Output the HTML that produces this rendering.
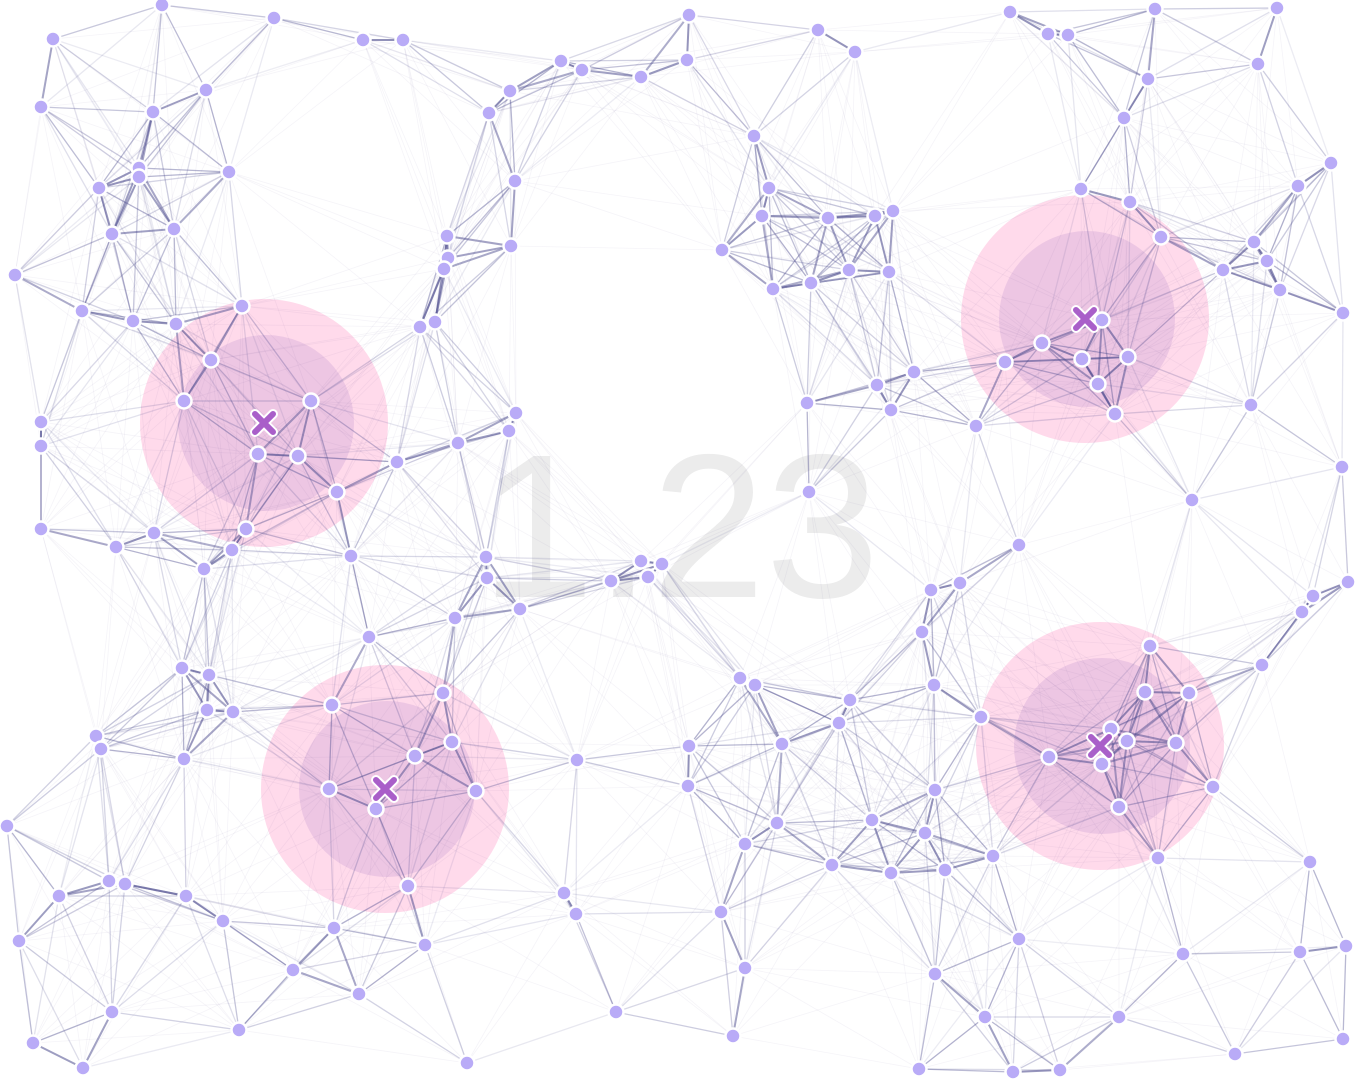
<!DOCTYPE html>
<html><head><meta charset="utf-8"><style>
html,body{margin:0;padding:0;background:#fff;}
svg{display:block;font-family:"Liberation Sans",sans-serif;}
</style></head><body>
<svg id="chart" width="1356" height="1080" viewBox="0 0 1356 1080">
<text x="680" y="597" text-anchor="middle" font-size="205" fill="#ececec">1.23</text>
<g id="halos"></g><g id="edges"></g><g id="nodes"></g><g id="markers"></g>
</svg>
<script>
const nodeX=[53,162,274,363,403,41,153,206,99,139,139,229,112,174,15,82,133,176,242,211,184,311,258,298,337,397,41,41,41,116,154,204,232,246,351,
489,510,561,582,641,687,689,515,511,447,448,444,420,435,516,509,458,
754,818,855,769,762,828,875,893,722,773,811,849,889,877,914,891,807,809,
1010,1048,1068,1155,1277,1148,1258,1124,1081,1130,1161,1298,1331,1254,1267,1223,1280,1343,1102,1042,1005,1082,1128,1098,1115,976,1251,1342,1192,1019,
486,487,520,455,611,641,648,662,369,931,960,922,934,981,1313,1348,1302,1262,
182,209,207,233,96,101,184,332,443,452,415,329,376,476,408,577,7,59,109,125,186,223,19,112,33,83,239,293,334,359,425,467,564,576,616,
740,755,689,782,688,850,839,745,777,872,832,891,925,945,935,993,721,745,733,1019,935,985,919,1013,1060,1119,
1150,1145,1189,1111,1127,1176,1049,1102,1119,1213,1158,1310,1183,1300,1346,1235,1343];
const nodeY=[39,5,18,40,40,107,112,90,188,168,177,172,234,229,275,311,321,324,306,360,401,401,454,456,492,462,422,446,529,547,533,569,550,529,556,
113,91,61,70,77,60,15,181,246,236,258,269,327,322,413,431,443,
136,30,52,188,216,218,216,211,250,289,283,270,272,385,372,410,403,492,
12,34,35,9,8,79,64,118,189,202,237,186,163,242,261,270,290,313,320,343,362,359,357,384,414,426,405,467,500,545,
557,578,609,618,581,561,577,564,637,590,583,632,685,717,596,582,612,665,
668,675,710,712,736,749,759,705,693,742,756,789,809,791,886,760,826,896,881,884,896,921,941,1012,1043,1068,1030,970,928,994,945,1063,893,914,1012,
678,685,746,744,786,700,723,844,823,820,865,873,833,870,790,856,912,968,1036,939,974,1017,1069,1072,1070,1017,
646,692,693,729,741,743,757,764,807,787,858,862,954,952,946,1054,1039];
const clusterX=[264,385,1085,1100];
const clusterY=[423,789,319,746];
const NS="http://www.w3.org/2000/svg";
function mk(t,a,p){const e=document.createElementNS(NS,t);for(const k in a)e.setAttribute(k,a[k]);p.appendChild(e);return e;}
const halos=document.getElementById('halos'),edges=document.getElementById('edges'),nodes=document.getElementById('nodes'),markers=document.getElementById('markers');
for(let i=0;i<clusterX.length;i++){
 const o=mk('circle',{cx:clusterX[i],cy:clusterY[i],r:124,fill:'#ffd3e8',opacity:0.85},halos);
 
 
 const n=mk('circle',{cx:clusterX[i]+2,cy:clusterY[i],r:88,fill:'#e6bde0',opacity:0.7},halos);
 
 
}
const N=nodeX.length;
for(let i=0;i<N;i++)for(let j=i+1;j<N;j++){
 const d=Math.hypot(nodeX[i]-nodeX[j],nodeY[i]-nodeY[j]);
 if(d>250)continue;
 let op,w;
 if(d<165){op=0.68*(1-d/165)+0.1;w=d<80?2:1.3;}
 else{op=0.06;w=0.8;}
 const l=mk('line',{x1:nodeX[i],y1:nodeY[i],x2:nodeX[j],y2:nodeY[j],stroke:'#4d4c8e','stroke-width':w,'stroke-opacity':op.toFixed(3)},edges);
 
 
}
for(let i=0;i<N;i++){
 const c=mk('circle',{cx:nodeX[i],cy:nodeY[i],r:7.5,fill:'#b9abf7',stroke:'#fff','stroke-width':2.5},nodes);
 
 
}
for(let i=0;i<clusterX.length;i++){
 const g=mk('g',{transform:`translate(${clusterX[i]},${clusterY[i]})`},markers);
 
 
 mk('path',{d:'M-9,-9L9,9M9,-9L-9,9',stroke:'#fff','stroke-width':10,'stroke-linecap':'round'},g);
 mk('path',{d:'M-9,-9L9,9M9,-9L-9,9',stroke:'#a95fc9','stroke-width':6,'stroke-linecap':'round'},g);
}
</script>
</body></html>
